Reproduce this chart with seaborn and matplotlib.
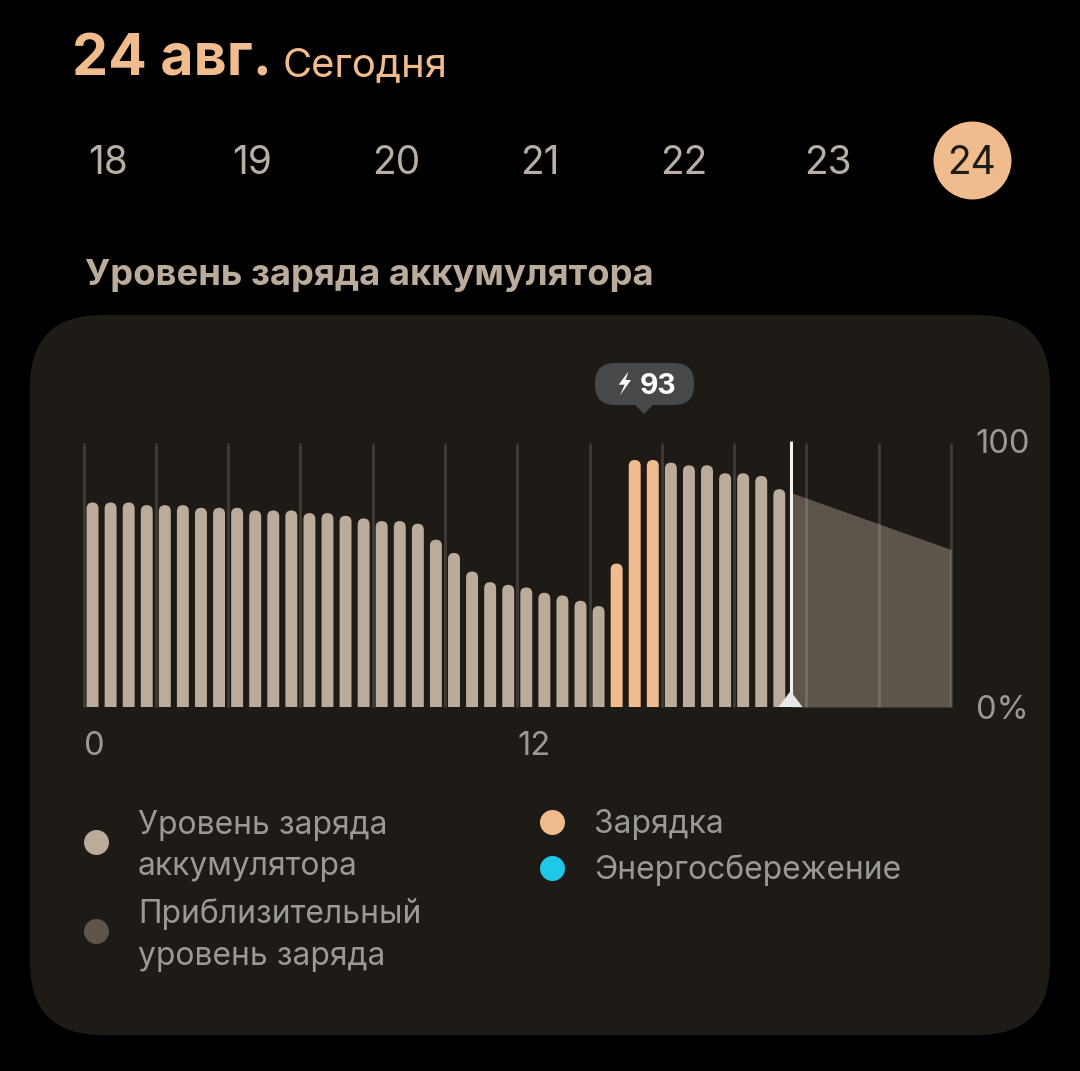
import numpy as np
import pandas as pd
import matplotlib
matplotlib.use("Agg")
import matplotlib.pyplot as plt
from matplotlib.patches import FancyBboxPatch, Polygon
import seaborn as sns

# values
battery_level = [77, 77, 77, 76, 76, 76, 75, 75, 75, 74, 74, 74, 73, 73, 72, 71, 70, 70, 69, 63,
                 58, 51, 47, 46, 45, 43, 42, 40, 38, 54, 93, 93, 92, 91, 91, 88, 88, 87, 82]
charging_slots = [29, 30, 31]
projection_hours = [19.6, 24]
projection_level = [80.6, 59.3]
now_hour = 19.56
grid_hours = list(range(0, 25, 2))
day_labels = ["18", "19", "20", "21", "22", "23", "24"]
legend_items = [
    ("Уровень заряда\nаккумулятора", "#bbab9b"),
    ("Приблизительный\nуровень заряда", "#5d554c"),
    ("Зарядка", "#f0bc8e"),
    ("Энергосбережение", "#1fc8e6"),
]

BG = "#000000"
PANEL = "#1e1a15"
PEACH = "#f0bc8e"
BAR = "#bbab9b"
GREY = "#9b9996"

sns.set_theme(style="dark")
plt.rcParams["font.family"] = ["Inter", "Roboto", "DejaVu Sans"]
plt.rcParams["text.color"] = GREY

fig = plt.figure(figsize=(10.8, 10.71), dpi=100, facecolor=BG)

# full figure overlay in pixel coords for the app chrome
ui = fig.add_axes([0, 0, 1, 1], zorder=0)
ui.set_xlim(0, 1080)
ui.set_ylim(1071, 0)
ui.axis("off")

ui.add_patch(FancyBboxPatch((30, 315), 1020, 720, boxstyle="round,pad=0,rounding_size=72",
                            fc=PANEL, ec="none"))

ui.text(72, 60, "24 авг.", fontsize=41.2, fontweight="bold", color=PEACH, va="center")
ui.text(283, 66, "Сегодня", fontsize=28.8, color=PEACH, va="center")

day_x = np.linspace(108, 972, len(day_labels))
ui.scatter([day_x[-1]], [160], s=3150, color=PEACH, linewidths=0)
for x, lab in zip(day_x, day_labels):
    ui.text(x, 164, lab, fontsize=28, ha="center", va="center",
            color="#1f1b16" if lab == day_labels[-1] else "#b8aea3")

ui.text(85, 276, "Уровень заряда аккумулятора", fontsize=26.2, fontweight="bold",
        color="#bbab9b", va="center")

# tooltip above the charge peak
ui.add_patch(FancyBboxPatch((595, 363), 99, 42, boxstyle="round,pad=0,rounding_size=20",
                            fc="#48484a", ec="none"))
ui.add_patch(Polygon([(634, 404), (654, 404), (644, 414)], fc="#48484a", ec="none"))
bolt = np.array([(205, 65), (176, 104), (194, 104), (180, 136), (213, 90), (197, 90)]) / 3 + [560, 350]
ui.add_patch(Polygon(bolt, fc="white", ec="none"))
ui.text(658, 387, "93", fontsize=20.5, fontweight="bold", color="white", ha="center", va="center")

# legend
legend_pos = [(96, 842, 138, 846), (96, 931, 138, 935), (552, 822, 594, 824), (552, 868, 594, 870)]
for (lab, col), (mx, my, tx, ty) in zip(legend_items, legend_pos):
    ui.scatter([mx], [my], s=324, color=col, linewidths=0)
    ui.text(tx, ty, lab, fontsize=22.9, color=GREY, va="center", linespacing=1.45)

# chart
ax = fig.add_axes([83.5 / 1080, 1 - 707 / 1071, (951 - 83.5) / 1080, (707 - 441.4) / 1071], zorder=1)

df = pd.DataFrame({
    "hour": [0.25 + 0.5 * i for i in range(len(battery_level))],
    "level": battery_level,
    "state": ["charging" if i in charging_slots else "normal" for i in range(len(battery_level))],
})
sns.barplot(data=df, x="hour", y="level", hue="state", palette={"normal": BAR, "charging": PEACH},
            native_scale=True, dodge=False, width=0.66, saturation=1, legend=False, ax=ax, zorder=3)

ax.set_xlim(0, 24)
ax.set_ylim(0, 100)

# px per unit differs on the axes, so round caps need the aspect
aspect = (867.5 / 24) / (265.6 / 100)
for bar in list(ax.patches):
    bar.set_visible(False)
    h = bar.get_height()
    if not h or np.isnan(h):
        continue
    ax.add_patch(FancyBboxPatch((bar.get_x(), -12), bar.get_width(), h + 12,
                                boxstyle="round,pad=0,rounding_size=0.166", mutation_aspect=aspect,
                                fc=bar.get_facecolor(), ec="none", zorder=3))

ax.fill_between(projection_hours, projection_level, color="#5d554c", lw=0, zorder=1)
ax.vlines(grid_hours, 0, 99.3, color="white", alpha=0.15, lw=2, zorder=2, clip_on=False)
ax.vlines(now_hour, 0, 100, color="#f2f2f2", lw=2.2, zorder=4)
ax.fill([now_hour - 0.33, now_hour + 0.33, now_hour], [0, 0, 6], color="#e8e8e8", lw=0, zorder=5)

ax.grid(False)
ax.set_frame_on(False)
ax.set_xlabel("")
ax.set_ylabel("")
ax.set_xticks([0, 12], ["0", "12"], fontsize=23.5, color=GREY, ha="left")
ax.yaxis.tick_right()
ax.set_yticks([0, 100], ["0%", "100"], fontsize=23.5, color=GREY, ha="center", va="center_baseline")
ax.tick_params(axis="x", length=0, pad=17)
ax.tick_params(axis="y", length=0, pad=37)

fig.savefig("out.png", dpi=100, facecolor=BG)
